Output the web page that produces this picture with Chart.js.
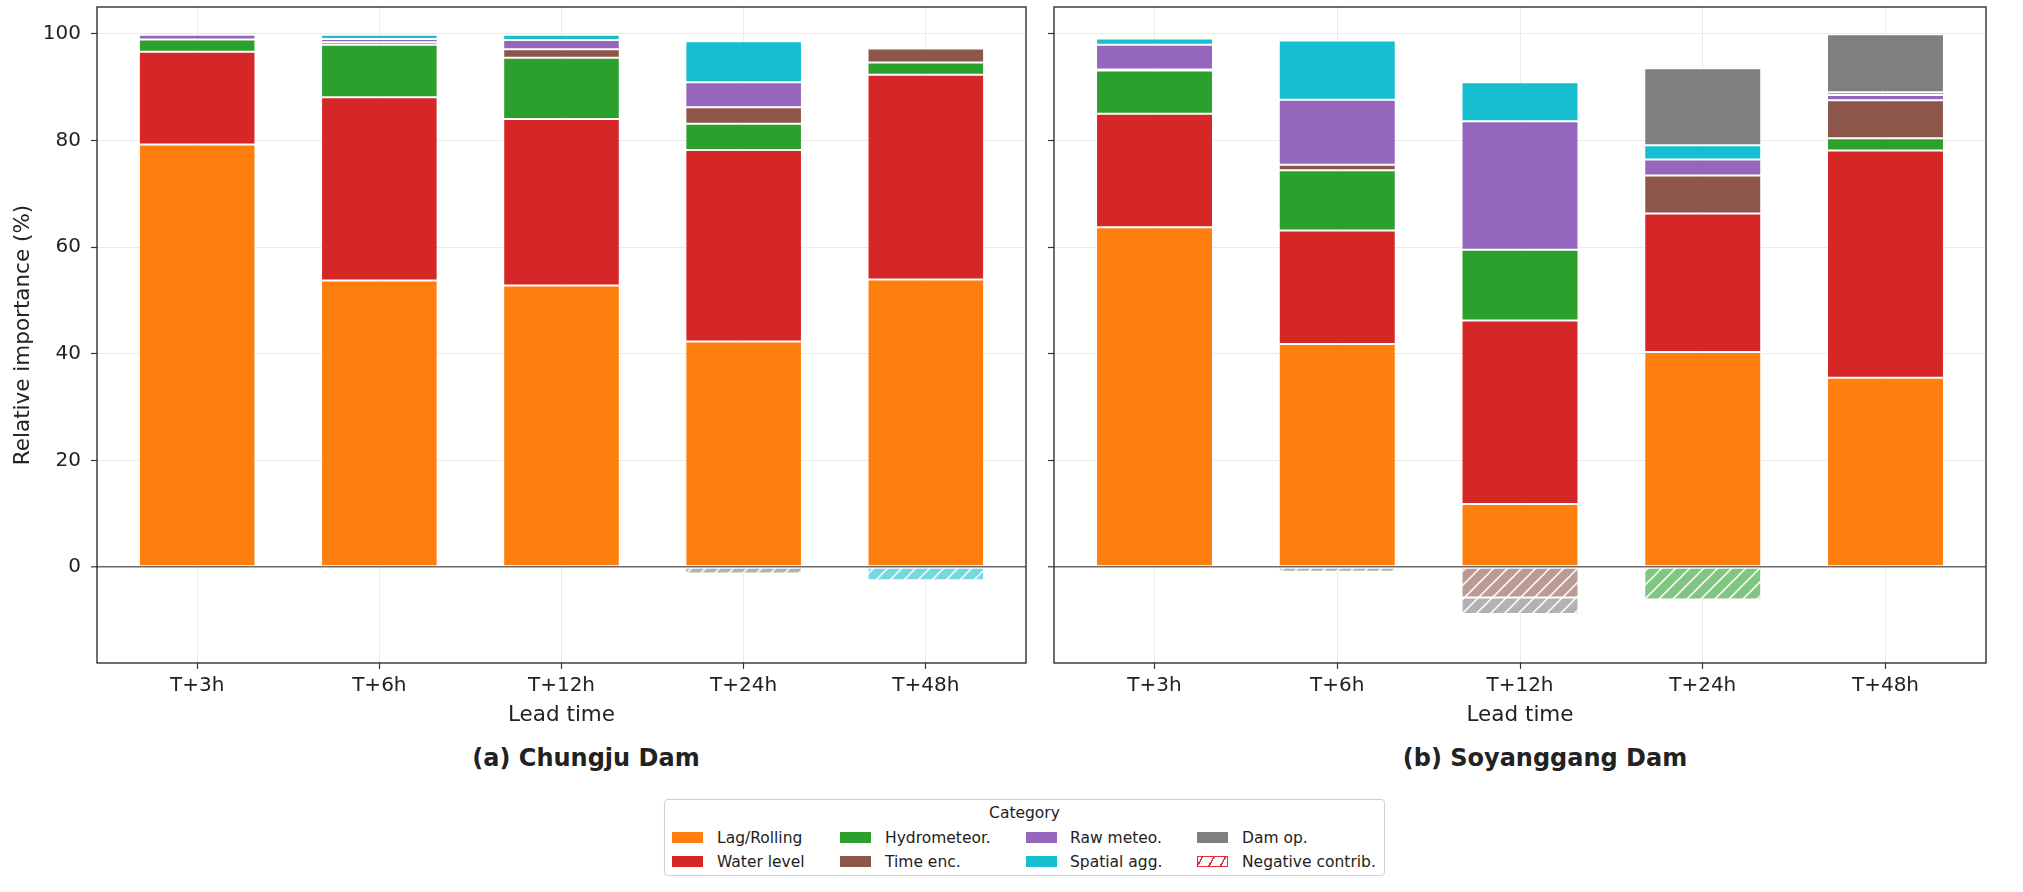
<!DOCTYPE html>
<html>
<head>
<meta charset="utf-8">
<script src="https://cdn.jsdelivr.net/npm/chart.js@4.4.0/dist/chart.umd.min.js"></script>
<style>
  body { margin: 0; background: #fff; width: 2023px; height: 892px; overflow: hidden; position: relative;
         font-family: 'DejaVu Sans', sans-serif; color: #222; }
  .panel { position: absolute; top: 0; height: 740px; }
  .title { position: absolute; top: 743px; font-weight: bold; font-size: 24px; line-height: 30px;
           transform: translateX(-50%); white-space: nowrap; }
  #legend { position: absolute; left: 664px; top: 799px; width: 721px; height: 77px; box-sizing: border-box;
            border: 1px solid #d0d0d0; border-radius: 4px; font-size: 15.5px; box-shadow: 0 0 1px #ddd; }
  #legend .cap { position: absolute; left: 0; width: 100%; top: 3px; text-align: center; line-height: 20px; }
  #legend .sw { position: absolute; width: 31px; height: 11px; box-sizing: border-box; }
  #legend .lbl { position: absolute; line-height: 20px; white-space: nowrap; }
</style>
</head>
<body>
<div class="panel" style="left:0;width:1040px"><canvas id="chartA"></canvas></div>
<div class="panel" style="left:1040px;width:983px"><canvas id="chartB"></canvas></div>
<div class="title" style="left:586px">(a) Chungju Dam</div>
<div class="title" style="left:1545px">(b) Soyanggang Dam</div>
<div id="legend"><div class="cap">Category</div></div>

<script>
const leadTimes = ['T+3h', 'T+6h', 'T+12h', 'T+24h', 'T+48h'];
const categories = ['Lag/Rolling', 'Water level', 'Hydrometeor.', 'Time enc.', 'Raw meteo.', 'Spatial agg.', 'Dam op.'];
const colors = ['#ff7f0e', '#d62728', '#2ca02c', '#8c564b', '#9467bd', '#17becf', '#7f7f7f'];
const yTicks = [0, 20, 40, 60, 80, 100];

// Chungju Dam, relative importance (%) per category; negative = negative contribution
const chungjuLag = [79.2, 53.7, 52.8, 42.3, 53.9];
const chungjuWater = [17.4, 34.4, 31.2, 35.9, 38.4];
const chungjuHydro = [2.3, 9.8, 11.5, 4.9, 2.3];
const chungjuTime = [0, 0.5, 1.6, 3.1, 2.6];
const chungjuRaw = [0.9, 0.6, 1.7, 4.7, 0.2];
const chungjuSpatial = [0, 0.8, 1.0, 7.7, -2.5];
const chungjuDam = [0, 0, 0, -1.2, 0];

// Soyanggang Dam
const soyangLag = [63.7, 41.8, 11.8, 40.3, 35.5];
const soyangWater = [21.3, 21.3, 34.4, 26.0, 42.6];
const soyangHydro = [8.1, 11.3, 13.3, -6.1, 2.3];
const soyangTime = [0.2, 1.0, -5.7, 7.1, 7.1];
const soyangRaw = [4.6, 12.2, 24.1, 3.0, 1.0];
const soyangSpatial = [1.2, 11.1, 7.3, 2.7, 0.5];
const soyangDam = [-0.3, -0.9, -3.1, 14.4, 10.9];

const chungju = [chungjuLag, chungjuWater, chungjuHydro, chungjuTime, chungjuRaw, chungjuSpatial, chungjuDam];
const soyang = [soyangLag, soyangWater, soyangHydro, soyangTime, soyangRaw, soyangSpatial, soyangDam];

Chart.defaults.font.family = "'DejaVu Sans', sans-serif";
Chart.defaults.color = '#222';

function hexA(hex, a) {
  const n = parseInt(hex.slice(1), 16);
  return `rgba(${n >> 16},${(n >> 8) & 255},${n & 255},${a})`;
}

// "//" hatch, white lines over a faded fill
function hatch(fill, line, bg) {
  const s = 14;
  const c = document.createElement('canvas');
  c.width = s; c.height = s;
  const g = c.getContext('2d');
  if (bg) { g.fillStyle = bg; g.fillRect(0, 0, s, s); }
  g.fillStyle = fill;
  g.fillRect(0, 0, s, s);
  g.strokeStyle = line;
  g.lineWidth = 1.6;
  g.beginPath();
  g.moveTo(-2, s + 2); g.lineTo(s + 2, -2);
  g.moveTo(-2, 2); g.lineTo(2, -2);
  g.moveTo(s - 2, s + 2); g.lineTo(s + 2, s - 2);
  g.stroke();
  return g.createPattern(c, 'repeat');
}

const patterns = colors.map(c => hatch(hexA(c, 0.6), 'rgba(255,255,255,0.9)', '#fff'));

const frame = {
  id: 'frame',
  afterDraw(chart) {
    const {ctx, chartArea: a} = chart;
    ctx.save();
    ctx.strokeStyle = '#222';
    ctx.lineWidth = 1.3;
    ctx.strokeRect(a.left, a.top, a.right - a.left, a.bottom - a.top);
    ctx.restore();
  }
};

function makeChart(id, series, opts) {
  const datasets = series.map((vals, k) => ({
    label: categories[k],
    data: vals.map((v, i) => ({x: i, y: v})),
    backgroundColor: ctx => (ctx.raw && ctx.raw.y < 0) ? patterns[k] : colors[k],
    borderColor: 'rgba(255,255,255,0.4)',
    borderWidth: ctx => (ctx.raw && ctx.raw.y !== 0) ? 1 : 0,
    borderSkipped: false,
    barPercentage: 0.64,
    categoryPercentage: 1
  }));

  const canvas = document.getElementById(id);
  canvas.width = opts.w; canvas.height = 740;
  canvas.style.width = opts.w + 'px'; canvas.style.height = '740px';

  return new Chart(canvas, {
    type: 'bar',
    data: {datasets},
    options: {
      responsive: false,
      animation: false,
      events: [],
      layout: {padding: {top: 7, right: opts.right, left: 0, bottom: 0}},
      plugins: {legend: {display: false}, tooltip: {enabled: false}},
      scales: {
        x: {
          type: 'linear', stacked: true, min: -0.55, max: 4.55, offset: false,
          afterBuildTicks: s => { s.ticks = leadTimes.map((_, i) => ({value: i})); },
          afterFit: s => { s.height = 77; s.paddingLeft = 0; s.paddingRight = 0; },
          ticks: {callback: v => leadTimes[v], font: {size: 20}, padding: 5, maxRotation: 0, color: '#222'},
          grid: {offset: false, color: '#ebebeb', lineWidth: 1, tickColor: '#333', tickLength: 6, tickWidth: 1.2},
          border: {display: false},
          title: {display: true, text: 'Lead time', font: {size: 21.5}, padding: {top: 0, bottom: 12}, color: '#222'}
        },
        y: {
          stacked: true, min: -18, max: 105,
          afterBuildTicks: s => { s.ticks = yTicks.map(v => ({value: v})); },
          afterFit: s => { s.width = opts.yw; s.paddingTop = 0; s.paddingBottom = 0; },
          ticks: {display: opts.labels, font: {size: 20}, padding: 10, color: '#222'},
          grid: {
            color: c => (c.tick && c.tick.value === 0) ? '#6a6a6a' : '#ebebeb',
            lineWidth: c => (c.tick && c.tick.value === 0) ? 1.6 : 1,
            tickColor: '#333', tickLength: 6, tickWidth: 1.2
          },
          border: {display: false},
          title: {display: opts.labels, text: 'Relative importance (%)', font: {size: 21.5}, padding: {top: 11, bottom: 0}, color: '#222'}
        }
      }
    },
    plugins: [frame]
  });
}

makeChart('chartA', chungju, {w: 1040, right: 14, yw: 97, labels: true});
makeChart('chartB', soyang, {w: 983, right: 37, yw: 14, labels: false});

// legend, laid out in column order like the original
const legend = document.getElementById('legend');
const items = categories.map((c, k) => ({label: c, fill: colors[k]}));
items.push({label: 'Negative contrib.', neg: true});
const swX = [7, 175, 361, 532];
const txX = [52, 220, 405, 577];
const rowY = [38, 62];
items.forEach((it, i) => {
  const col = Math.floor(i / 2), row = i % 2;
  const sw = document.createElement('div');
  sw.className = 'sw';
  sw.style.left = swX[col] + 'px';
  sw.style.top = (rowY[row] - 6) + 'px';
  if (it.neg) {
    sw.style.border = '1.5px solid #e0303a';
    sw.style.background = 'repeating-linear-gradient(-60deg, #fff 0 5px, #e0303a 5px 6.5px, #fff 6.5px 10px)';
  } else {
    sw.style.background = it.fill;
  }
  legend.appendChild(sw);
  const t = document.createElement('div');
  t.className = 'lbl';
  t.textContent = it.label;
  t.style.left = txX[col] + 'px';
  t.style.top = (rowY[row] - 10) + 'px';
  legend.appendChild(t);
});
</script>
</body>
</html>
